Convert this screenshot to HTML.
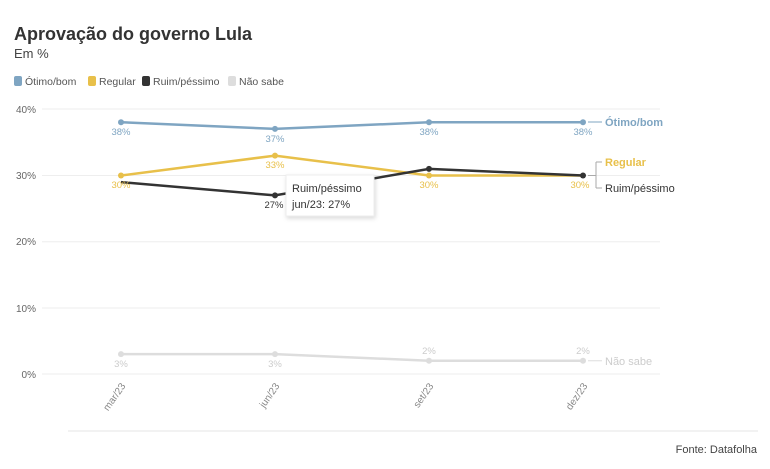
<!DOCTYPE html>
<html><head><meta charset="utf-8"><style>
body{margin:0;background:#fff;width:770px;height:464px;overflow:hidden;font-family:"Liberation Sans",sans-serif}
</style></head><body>
<svg width="770" height="464" xmlns="http://www.w3.org/2000/svg" font-family="Liberation Sans, sans-serif">
<text x="14" y="40" font-size="18" font-weight="bold" fill="#333">Aprovação do governo Lula</text>
<text x="14" y="58" font-size="13" fill="#444">Em %</text>
<g font-size="10.5" fill="#555">
<rect x="14" y="76" width="8" height="10" rx="2" fill="#7fa5c2"/><text x="25" y="85">Ótimo/bom</text>
<rect x="88" y="76" width="8" height="10" rx="2" fill="#e8c04a"/><text x="99" y="85">Regular</text>
<rect x="142" y="76" width="8" height="10" rx="2" fill="#333"/><text x="153" y="85">Ruim/péssimo</text>
<rect x="228" y="76" width="8" height="10" rx="2" fill="#ddd"/><text x="239" y="85">Não sabe</text>
</g>
<g stroke="#eee" stroke-width="1">
<line x1="42" x2="660" y1="109" y2="109"/><line x1="42" x2="660" y1="175.5" y2="175.5"/>
<line x1="42" x2="660" y1="241.75" y2="241.75"/><line x1="42" x2="660" y1="308" y2="308"/>
<line x1="42" x2="660" y1="374" y2="374"/>
<line x1="68" x2="758" y1="431" y2="431" stroke="#e6e6e6"/>
</g>
<g font-size="10" fill="#666" text-anchor="end">
<text x="36" y="113">40%</text><text x="36" y="179">30%</text><text x="36" y="245">20%</text><text x="36" y="312">10%</text><text x="36" y="378">0%</text>
</g>
<g font-size="10" fill="#888" text-anchor="end">
<text transform="translate(126,386) rotate(-55)">mar/23</text>
<text transform="translate(280,386) rotate(-55)">jun/23</text>
<text transform="translate(434,386) rotate(-55)">set/23</text>
<text transform="translate(588,386) rotate(-55)">dez/23</text>
</g>
<g fill="none" stroke-width="2.5">
<polyline stroke="#7fa5c2" points="121,122.25 275,128.9 429,122.25 583,122.25"/>
<polyline stroke="#e8c04a" points="121,175.5 275,155.6 429,175.5 583,175.5"/>
<polyline stroke="#333" points="121,182.1 275,195.4 429,168.9 583,175.5"/>
<polyline stroke="#ddd" points="121,354.1 275,354.1 429,360.75 583,360.75"/>
</g>
<g fill="#7fa5c2"><circle cx="121" cy="122.25" r="3"/><circle cx="275" cy="128.9" r="3"/><circle cx="429" cy="122.25" r="3"/><circle cx="583" cy="122.25" r="3"/></g>
<g fill="#e8c04a"><circle cx="121" cy="175.5" r="3"/><circle cx="275" cy="155.6" r="3"/><circle cx="429" cy="175.5" r="3"/></g>
<g fill="#333"><circle cx="275" cy="195.4" r="3"/><circle cx="429" cy="168.9" r="3"/><circle cx="583" cy="175.5" r="3"/></g>
<g fill="#ddd"><circle cx="121" cy="354.1" r="3"/><circle cx="275" cy="354.1" r="3"/><circle cx="429" cy="360.75" r="3"/><circle cx="583" cy="360.75" r="3"/></g>
<g font-size="9.5" text-anchor="middle">
<g fill="#7fa5c2"><text x="121" y="135">38%</text><text x="275" y="142">37%</text><text x="429" y="135">38%</text><text x="583" y="135">38%</text></g>
<g fill="#e8c04a"><text x="121" y="188">30%</text><text x="275" y="168">33%</text><text x="429" y="188">30%</text><text x="580" y="188">30%</text></g>
<g fill="#333"><text x="274" y="208">27%</text></g>
<g fill="#ccc"><text x="121" y="367">3%</text><text x="275" y="367">3%</text><text x="429" y="354">2%</text><text x="583" y="354">2%</text></g>
</g>
<g stroke-width="1" fill="none">
<line x1="588" y1="122" x2="602" y2="122" stroke="#7fa5c2"/>
<path d="M588 175.5 H596 M596 162 V188 M596 162 H602 M596 188 H602" stroke="#aaa"/>
<line x1="588" y1="360.75" x2="602" y2="360.75" stroke="#ddd"/>
</g>
<text x="605" y="126" font-size="11" font-weight="bold" fill="#7fa5c2">Ótimo/bom</text>
<text x="605" y="166" font-size="11" font-weight="bold" fill="#e8c04a">Regular</text>
<text x="605" y="192" font-size="11" fill="#333">Ruim/péssimo</text>
<text x="605" y="365" font-size="11" fill="#ccc">Não sabe</text>
<rect x="286" y="175" width="88" height="41" fill="#fff" stroke="#eee" style="filter:drop-shadow(1px 2px 2px rgba(0,0,0,0.15))"/>
<text x="292" y="192" font-size="11" fill="#333">Ruim/péssimo</text>
<text x="292" y="208" font-size="11" fill="#333">jun/23: 27%</text>
<text x="757" y="453" font-size="11" fill="#444" text-anchor="end">Fonte: Datafolha</text>
</svg>
</body></html>
